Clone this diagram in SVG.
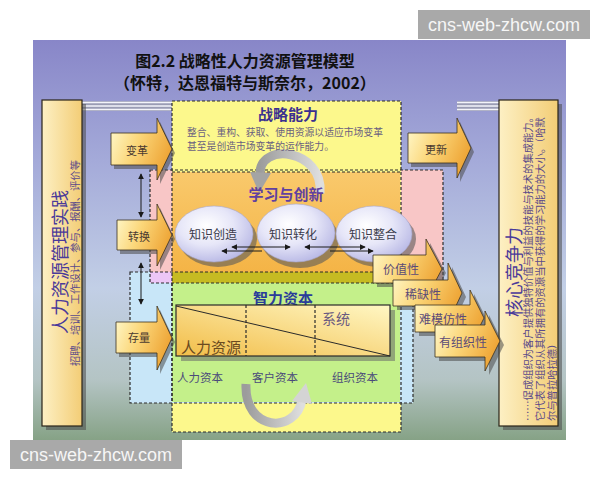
<svg xmlns="http://www.w3.org/2000/svg" width="600" height="480" viewBox="0 0 600 480">
<defs>
<style>
text{font-family:"Noto Sans CJK SC","Noto Sans",sans-serif;}
.wm{font-family:"Liberation Sans",Arial,sans-serif;font-size:18px;fill:#f6f6f6;text-anchor:middle}
.wmbox{fill:#a9a9a9}
.title{font-size:16px;font-weight:700;fill:#111;text-anchor:middle}
.dash{fill:none;stroke:#2b2b2b;stroke-width:1.2;stroke-dasharray:3 2}
.arrow{fill:url(#arrowGrad);stroke:#3a3020;stroke-width:0.8}
.shadow{fill:#4a4a4a;opacity:.55}
.lbl{font-size:11px;fill:#4a3a30;text-anchor:middle;dominant-baseline:central}
.rlbl{font-size:12px;fill:#5a4a78;text-anchor:middle;dominant-baseline:central}
.panel{fill:url(#panelGrad);stroke:#2a2418;stroke-width:1.2}
.ptitle{font-size:18px;fill:#4a3a9a;text-anchor:middle;dominant-baseline:central}
.psmall{font-size:10.3px;fill:#5a4a8a;dominant-baseline:central}
.head{font-size:15px;font-weight:700;text-anchor:middle;dominant-baseline:central}
.desc{font-size:9.8px;fill:#6a6080}
.ball{fill:url(#ballGrad);stroke:#a8a8cc;stroke-width:0.6}
.btxt{font-size:12px;fill:#3a3a4a;text-anchor:middle;dominant-baseline:central}
.cap{font-size:11.5px;fill:#4a4a7a;text-anchor:middle;dominant-baseline:central}
.conn{stroke:#1a1a1a;stroke-width:1;fill:none}
.ring{fill:none;stroke:url(#ringGrad);stroke-width:9}
</style>
<linearGradient id="bg" x1="0" y1="0" x2="0" y2="1">
<stop offset="0" stop-color="#8886c8"/>
<stop offset="0.3" stop-color="#a4aad9"/>
<stop offset="0.62" stop-color="#c2cfe6"/>
<stop offset="0.85" stop-color="#b4c4c4"/>
<stop offset="1" stop-color="#86a286"/>
</linearGradient>
<linearGradient id="panelGrad" x1="0" y1="0" x2="1" y2="0">
<stop offset="0" stop-color="#fdf0c4"/>
<stop offset="1" stop-color="#f3cd76"/>
</linearGradient>
<linearGradient id="arrowGrad" x1="0" y1="0" x2="1" y2="0.4">
<stop offset="0" stop-color="#fffbd2"/>
<stop offset="0.5" stop-color="#fbd77a"/>
<stop offset="1" stop-color="#efa83a"/>
</linearGradient>
<radialGradient id="ballGrad" cx="0.4" cy="0.35" r="0.7">
<stop offset="0" stop-color="#ffffff"/>
<stop offset="0.5" stop-color="#e6e6f8"/>
<stop offset="1" stop-color="#b6b6e4"/>
</radialGradient>
<linearGradient id="tableGrad" x1="1" y1="0" x2="0" y2="1">
<stop offset="0" stop-color="#fff7c4"/>
<stop offset="1" stop-color="#f2bd48"/>
</linearGradient>
<linearGradient id="orangeGrad" x1="0" y1="0" x2="0" y2="1">
<stop offset="0" stop-color="#f9c96c"/>
<stop offset="1" stop-color="#f4b446"/>
</linearGradient>
<linearGradient id="ringGrad" x1="0" y1="0" x2="1" y2="0">
<stop offset="0" stop-color="#9c9c9c"/>
<stop offset="1" stop-color="#dedede"/>
</linearGradient>
<marker id="ah" viewBox="0 0 8 8" refX="7" refY="4" markerWidth="6" markerHeight="6" orient="auto-start-reverse" markerUnits="userSpaceOnUse">
<path d="M0,0 L8,4 L0,8 z" fill="#1a1a1a"/>
</marker>
</defs>

<!-- picture background -->
<rect x="33" y="40" width="533" height="400" fill="url(#bg)"/>

<!-- title -->
<g id="title">
<text class="title" x="245" y="67">图2.2  战略性人力资源管理模型</text>
<text class="title" x="245" y="89">（怀特，达恩福特与斯奈尔，2002）</text>
</g>

<!-- grey bands -->
<g id="bands">
<rect x="82" y="101" width="90" height="10" fill="#9a9cb4"/>
<rect x="457" y="101" width="42" height="10" fill="#9a9cb4"/>
<path d="M82 102.5H172M82 106H172M82 109.5H172M457 102.5H499M457 106H499M457 109.5H499" stroke="#f4f4fa" stroke-width="1.3"/>
</g>

<!-- region fills -->
<g id="regions">
<rect x="150" y="170" width="293" height="113" fill="#f8c6c6"/>
<rect x="172" y="101" width="229" height="331" fill="#fcf88c"/>
<rect x="172" y="172" width="228" height="100" fill="url(#orangeGrad)"/>
<rect x="130" y="272" width="283" height="131" fill="#c8e6f8"/>
<rect x="172" y="283" width="228" height="119" fill="#c4f08a"/>
<rect x="172" y="272" width="228" height="11" fill="#c6bb22"/>
<rect x="150" y="272" width="22" height="11" fill="#ecc6f6"/>
<rect x="400" y="272" width="13" height="11" fill="#ecc6f6"/>
</g>
<g id="region-borders">
<rect class="dash" x="150" y="170" width="293" height="113" stroke="#6a2a2a"/>
<rect class="dash" x="172" y="101" width="229" height="331"/>
<line class="dash" x1="172" y1="172" x2="400" y2="172"/>
<rect class="dash" x="130" y="272" width="283" height="131" stroke="#1a2a4a"/>
<line class="dash" x1="172" y1="283" x2="172" y2="402"/>
</g>

<!-- top ring arrow -->
<g id="ring-top">
<path class="ring" d="M320 193 C324 149 258 141 260 175"/>
<polygon points="250,172 271,173 259,193" fill="#a4a4a4"/>
</g>

<!-- strategic capability -->
<g id="strategic">
<text class="head" x="288" y="113" fill="#3a3090">战略能力</text>
<text class="desc" x="187" y="135.5">整合、重构、获取、使用资源以适应市场变革</text>
<text class="desc" x="187" y="149.5">甚至是创造市场变革的运作能力。</text>
</g>

<!-- learning & innovation -->
<g id="learning">
<text class="head" x="286" y="193" fill="#6040a0">学习与创新</text>
</g>
<g id="k-create">
<ellipse cx="218" cy="239" rx="39" ry="28" fill="#5a5a5a" opacity="0.6"/>
<ellipse class="ball" cx="214" cy="234" rx="39" ry="28"/>
<text class="btxt" x="213" y="233">知识创造</text>
</g>
<g id="k-transfer">
<ellipse cx="300" cy="239" rx="39" ry="29" fill="#5a5a5a" opacity="0.6"/>
<ellipse class="ball" cx="296" cy="233" rx="39" ry="29"/>
<text class="btxt" x="293" y="233">知识转化</text>
</g>
<g id="k-integrate">
<ellipse cx="378" cy="239" rx="38" ry="28" fill="#5a5a5a" opacity="0.6"/>
<ellipse class="ball" cx="374" cy="234" rx="38" ry="28"/>
<text class="btxt" x="373" y="233">知识整合</text>
</g>

<!-- intellectual capital -->
<g id="intellectual">
<text class="head" x="283" y="297" fill="#2a3c9a">智力资本</text>
<rect x="181" y="310" width="214" height="51" fill="#6a6a6a" opacity="0.55"/>
<rect x="176" y="305" width="214" height="51" fill="url(#tableGrad)" stroke="#2a2a2a" stroke-width="1.2"/>
<line class="dash" x1="246" y1="305" x2="246" y2="356"/>
<line class="dash" x1="315" y1="305" x2="315" y2="356"/>
<line x1="176" y1="306" x2="390" y2="356" stroke="#2a2a2a" stroke-width="1"/>
<text x="336" y="318" font-size="14" fill="#6a5a80" text-anchor="middle" dominant-baseline="central">系统</text>
<text x="211" y="346" font-size="15" fill="#6a4a20" text-anchor="middle" dominant-baseline="central">人力资源</text>
<text class="cap" x="200" y="377">人力资本</text>
<text class="cap" x="275" y="377">客户资本</text>
<text class="cap" x="355" y="377">组织资本</text>
</g>

<!-- bottom ring arrow -->
<g id="ring-bottom">
<path class="ring" d="M246 384 C244 432 296 434 302 400"/>
<polygon points="292,401 312,404 306,383" fill="#d4d4d4"/>
</g>

<!-- left panel -->
<g id="hr-practice">
<rect class="shadow" x="46" y="104" width="40" height="326"/>
<rect class="panel" x="42" y="100" width="40" height="326"/>
<text class="ptitle" transform="translate(59,262) rotate(-90)">人力资源管理实践</text>
<text class="psmall" transform="translate(74,263) rotate(-90)" text-anchor="middle">招聘、培训、工作设计、参与、报酬、评价等</text>
</g>

<!-- right panel -->
<g id="core-competence">
<rect class="shadow" x="503" y="104" width="59" height="326"/>
<rect class="panel" x="499" y="100" width="59" height="326"/>
<text class="ptitle" transform="translate(513,272) rotate(-90)">核心竞争力</text>
<text class="psmall" transform="translate(527,421) rotate(-90)">……促成组织为客户提供独特价值与利益的技能与技术的集成能力。</text>
<text class="psmall" transform="translate(539,421) rotate(-90)">它代表了组织从其所拥有的资源当中获得的学习能力的大小。（哈默</text>
<text class="psmall" transform="translate(551,421) rotate(-90)">尔与普拉哈拉德）</text>
</g>

<!-- left arrows -->
<g id="a-change">
<polygon class="shadow" transform="translate(3,4)" points="111,133 157,133 157,118 172,149 157,180 157,165 111,165"/>
<polygon class="arrow" points="111,133 157,133 157,118 172,149 157,180 157,165 111,165"/>
<text class="lbl" x="137" y="150">变革</text>
</g>
<g id="a-convert">
<polygon class="shadow" transform="translate(3,4)" points="117,220 157,220 157,204 172,235 157,266 157,250 117,250"/>
<polygon class="arrow" points="117,220 157,220 157,204 172,235 157,266 157,250 117,250"/>
<text class="lbl" x="139" y="236">转换</text>
</g>
<g id="a-stock">
<polygon class="shadow" transform="translate(3,4)" points="116,322 157,322 157,306 172,338 157,370 157,353 116,353"/>
<polygon class="arrow" points="116,322 157,322 157,306 172,338 157,370 157,353 116,353"/>
<text class="lbl" x="139" y="337">存量</text>
</g>
<g id="a-renew">
<polygon class="shadow" transform="translate(3,4)" points="408,133 457,133 457,118 471,148 457,178 457,163 408,163"/>
<polygon class="arrow" points="408,133 457,133 457,118 471,148 457,178 457,163 408,163"/>
<text class="lbl" x="436" y="149">更新</text>
</g>

<!-- right arrows -->
<g id="a-value">
<polygon class="shadow" transform="translate(4,4)" points="373,255 426,255 426,239 442,269 426,299 426,283 373,283"/>
<polygon class="arrow" points="373,255 426,255 426,239 442,269 426,299 426,283 373,283"/>
<text class="rlbl" x="401" y="268">价值性</text>
</g>
<g id="a-rare">
<polygon class="shadow" transform="translate(4,4)" points="393,280 448,280 448,263 462,293 448,323 448,306 393,306"/>
<polygon class="arrow" points="393,280 448,280 448,263 462,293 448,323 448,306 393,306"/>
<text class="rlbl" x="423" y="293">稀缺性</text>
</g>
<g id="a-inimitable">
<polygon class="shadow" transform="translate(4,4)" points="415,305 470,305 470,290 484,318 470,346 470,332 415,332"/>
<polygon class="arrow" points="415,305 470,305 470,290 484,318 470,346 470,332 415,332"/>
<text class="rlbl" x="443" y="318">难模仿性</text>
</g>
<g id="a-organized">
<polygon class="shadow" transform="translate(4,4)" points="435,325 485,325 485,311 500,341 485,371 485,357 435,357"/>
<polygon class="arrow" points="435,325 485,325 485,311 500,341 485,371 485,357 435,357"/>
<text class="rlbl" x="463" y="341">有组织性</text>
</g>

<!-- connectors -->
<g id="connectors">
<line class="conn" x1="141" y1="174" x2="141" y2="217" marker-start="url(#ah)" marker-end="url(#ah)"/>
<line class="conn" x1="141" y1="263" x2="141" y2="304" marker-start="url(#ah)" marker-end="url(#ah)"/>
<line class="conn" x1="232" y1="247" x2="290" y2="247" marker-start="url(#ah)" marker-end="url(#ah)"/>
<line class="conn" x1="222" y1="251" x2="262" y2="251" marker-start="url(#ah)"/>
<line class="conn" x1="305" y1="247" x2="365" y2="247" marker-start="url(#ah)" marker-end="url(#ah)"/>
<line class="conn" x1="330" y1="251" x2="373" y2="251" marker-end="url(#ah)"/>
</g>

<!-- watermarks -->
<g id="watermarks">
<rect class="wmbox" x="418" y="10" width="172" height="29"/>
<text class="wm" x="504" y="31">cns-web-zhcw.com</text>
<rect class="wmbox" x="10" y="440" width="172" height="29"/>
<text class="wm" x="96" y="461">cns-web-zhcw.com</text>
</g>
</svg>
